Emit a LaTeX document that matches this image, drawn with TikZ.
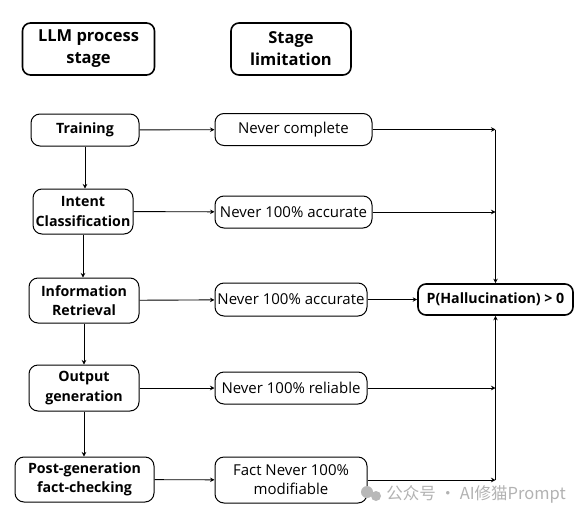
\documentclass[tikz,border=0pt]{standalone}
\usepackage{fontspec}
\setmainfont{Open Sans}
\newfontfamily\cjk{Noto Sans CJK SC}
\usetikzlibrary{arrows.meta}

\begin{document}
\begin{tikzpicture}[x=1pt,y=-1pt,>={Stealth[length=4.5pt,width=4.5pt]}]
\tikzstyle{headbox}=[draw,line width=1.6pt,rounded corners=8pt,align=center,
  font=\fontsize{16.5}{22}\selectfont\bfseries,inner sep=0pt]
\tikzstyle{stagebox}=[draw,line width=1pt,rounded corners=9pt,align=center,
  font=\fontsize{14.2}{19.5}\selectfont\bfseries,inner sep=0pt]
\tikzstyle{limitbox}=[draw,line width=1pt,rounded corners=9pt,align=center,
  font=\fontsize{15}{19}\selectfont,inner sep=0pt,minimum width=152pt]
\tikzstyle{every path}=[line width=0.9pt]
\useasboundingbox (0,0) rectangle (581,517);
% column heads
\node[headbox,minimum width=132pt,minimum height=52pt] (headstage) at (88.5,49) {LLM process\\stage};
\node[headbox,minimum width=120pt,minimum height=52pt] (headlimit) at (291,49) {Stage\\limitation};
% process stages
\node[stagebox,minimum width=108pt,minimum height=32pt] (train) at (85,130) {Training};
\node[stagebox,minimum width=100pt,minimum height=45pt] (intent) at (83,211.5) {Intent\\Classification};
\node[stagebox,minimum width=110pt,minimum height=45pt] (info) at (84,300.5) {Information\\Retrieval};
\node[stagebox,minimum width=110pt,minimum height=46pt] (output) at (84,388) {Output\\generation};
\node[stagebox,minimum width=139pt,minimum height=45pt] (post) at (84.5,479.5) {Post-generation\\fact-checking};
% limitations
\node[limitbox,minimum width=157pt,minimum height=32pt] (complete) at (293.5,129.5) {Never complete};
\node[limitbox,minimum width=157pt,minimum height=32pt] (accintent) at (293.5,212) {Never 100\% accurate};
\node[limitbox,minimum height=33pt] (accinfo) at (291,299.5) {Never 100\% accurate};
\node[limitbox,minimum height=32pt] (reliable) at (291,388) {Never 100\% reliable};
\node[limitbox,minimum height=46pt] (modif) at (291,480) {Fact Never 100\%\\modifiable};
% result
\node[headbox,font=\fontsize{14.2}{16}\selectfont\bfseries,minimum width=155pt,minimum height=31pt] (halluc) at (495.5,299.5) {P(Hallucination) > 0};

\draw[->] (train.south) -- (train.south |- intent.north);
\draw[->] (intent.south) -- (intent.south |- info.north);
\draw[->] (info.south) -- (info.south |- output.north);
\draw[->] (output.south) -- (output.south |- post.north);

\draw[->] (train) -- (complete);
\draw[->] (intent) -- (accintent);
\draw[->] (info) -- (accinfo);
\draw[->] (output) -- (reliable);
\draw[->] (post) -- (modif);

\coordinate (jtop) at (complete.east -| halluc.north);
\coordinate (jbot) at (modif.east -| halluc.south);
\draw[->] (complete.east) -- (jtop);
\draw[->] (accintent.east) -- (accintent.east -| jtop);
\draw[->] (jtop) -- (halluc.north);
\draw[->] (accinfo) -- (halluc);
\draw[->] (reliable.east) -- (reliable.east -| jbot);
\draw[->] (modif.east) -- (jbot);
\draw[->] (jbot) -- (halluc.south);

% watermark
\fill[black!28] (367,492) circle (6pt) (376,496) circle (5pt);
\node[text=black!30,font=\cjk\fontsize{16.5}{18}\selectfont,anchor=west,inner sep=0pt] (mark) at (386,494.5) {公众号 · AI修猫Prompt};
\end{tikzpicture}
\end{document}
